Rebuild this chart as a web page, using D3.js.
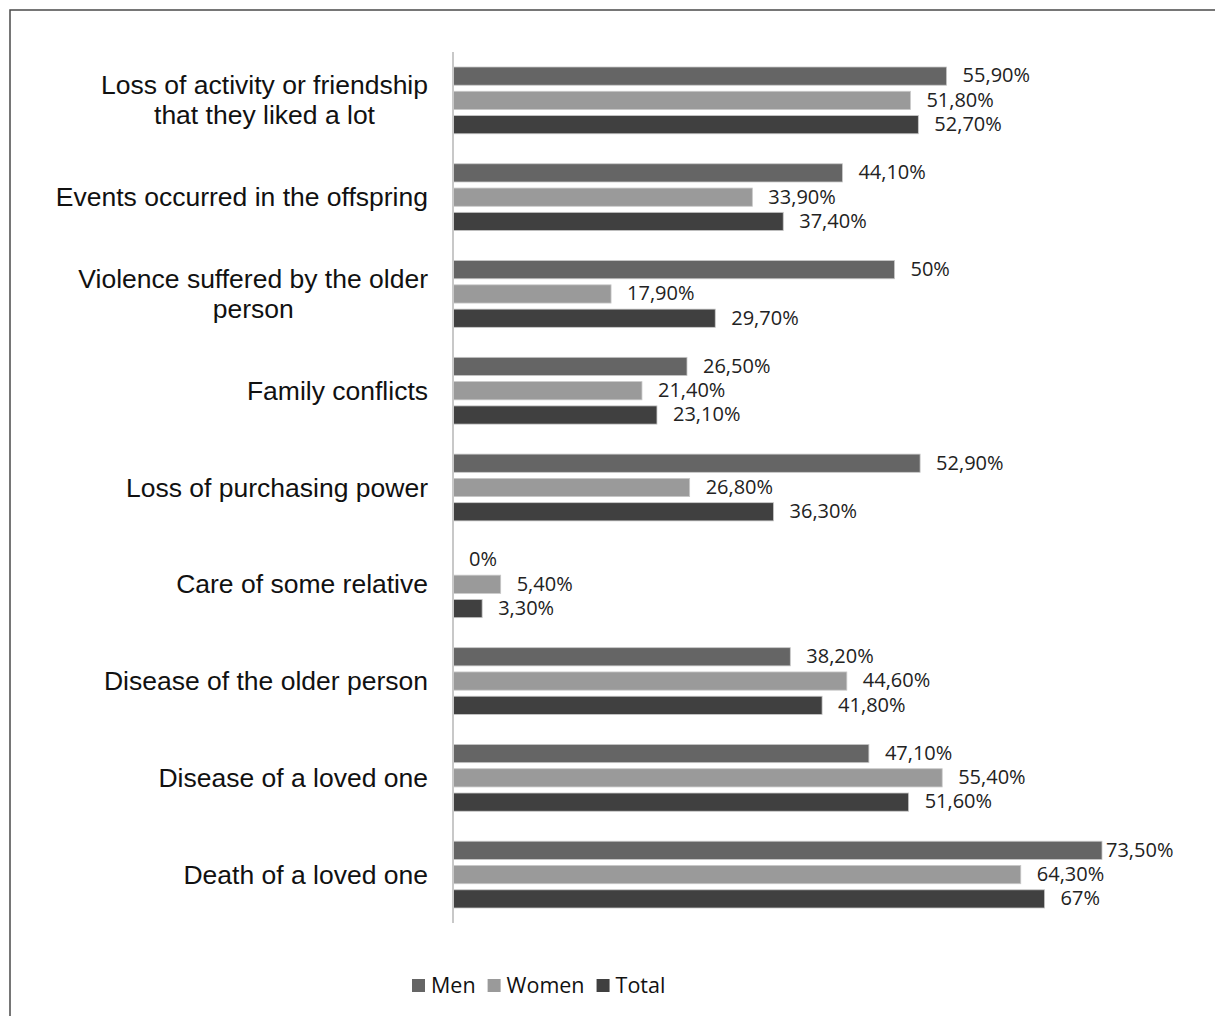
<!DOCTYPE html>
<html>
<head>
<meta charset="utf-8">
<script src="https://cdn.jsdelivr.net/npm/d3@7"></script>
<style>
  body { margin: 0; background: #fff; }
  .cat { font-family: Arial, "Liberation Sans", Helvetica, sans-serif; }
</style>
</head>
<body>
<script>
// categories, top to bottom
var categories = [
  ["Loss of activity or friendship", "that they liked a lot"],
  ["Events occurred in the offspring"],
  ["Violence suffered by the older", "person"],
  ["Family conflicts"],
  ["Loss of purchasing power"],
  ["Care of some relative"],
  ["Disease of the older person"],
  ["Disease of a loved one"],
  ["Death of a loved one"]
];
var seriesNames = ["Men", "Women", "Total"];
var men   = [55.9, 44.1, 50, 26.5, 52.9, 0, 38.2, 47.1, 73.5];
var women = [51.8, 33.9, 17.9, 21.4, 26.8, 5.4, 44.6, 55.4, 64.3];
var total = [52.7, 37.4, 29.7, 23.1, 36.3, 3.3, 41.8, 51.6, 67];
var colors = ["#656565", "#9a9a9a", "#404040"];

var W = 1215, H = 1016;
var svg = d3.select('body').append('svg')
            .attr("width", W)
            .attr("height", H);

// frame (only top + left visible in the picture)
svg.append('rect')
   .attr('x', 10).attr('y', 10)
   .attr('width', 1400).attr('height', 1200)
   .attr('fill', 'none')
   .attr('stroke', '#4a4a4a')
   .attr('stroke-width', 1.5);

var x = d3.scaleLinear().domain([0, 80]).range([453, 453 + 80 * 8.83]);
var plotRight = 1106;

var y0 = d3.scaleBand()
           .domain(d3.range(categories.length))
           .range([52, 923])
           .paddingInner(0.31)
           .paddingOuter(0.155);

var y1 = d3.scaleBand()
           .domain(d3.range(3))
           .range([0, y0.bandwidth()])
           .paddingInner(0.25);

var rows = [];
categories.forEach(function (c, i) {
  [men, women, total].forEach(function (s, j) {
    rows.push({ cat: i, s: j, v: s[i] });
  });
});

var fmt = function (v) {
  var s = (v % 1 === 0) ? String(v) : v.toFixed(2).replace('.', ',');
  return s + '%';
};

svg.selectAll('rect.bar')
   .data(rows)
   .enter().append('rect')
   .attr('class', 'bar')
   .attr('x', x(0))
   .attr('y', function (d) { return y0(d.cat) + y1(d.s); })
   .attr('width', function (d) { return x(d.v) - x(0); })
   .attr('height', y1.bandwidth())
   .attr('fill', function (d) { return colors[d.s]; })
   .attr('stroke', '#c8c8c8')
   .attr('stroke-width', 0.8);

svg.selectAll('text.val')
   .data(rows)
   .enter().append('text')
   .attr('class', 'val')
   .attr('x', function (d) { var e = x(d.v); return e + Math.min(16, plotRight - e); })
   .attr('y', function (d) { return y0(d.cat) + y1(d.s) + y1.bandwidth() / 2 + 1; })
   .attr('dominant-baseline', 'middle')
   .style('font-family', '"Open Sans", sans-serif')
   .style('font-size', '20px')
   .style('fill', '#222')
   .text(function (d) { return fmt(d.v); });

// axis line
svg.append('line')
   .attr('x1', x(0)).attr('x2', x(0))
   .attr('y1', 52).attr('y2', 923)
   .attr('stroke', '#c8c8c8')
   .attr('stroke-width', 2);

// category labels: block right-aligned at 428, lines centred within the block
var catG = svg.selectAll('text.cat')
   .data(categories)
   .enter().append('text')
   .attr('class', 'cat')
   .attr('text-anchor', 'middle')
   .style('font-size', '26.5px')
   .style('fill', '#111');

catG.each(function (lines, i) {
  var cy = y0(i) + y0.bandwidth() / 2;
  var t = d3.select(this);
  var lh = 30;
  var spans = lines.map(function (ln, k) {
    return t.append('tspan')
     .attr('y', cy + 9 + (k - (lines.length - 1) / 2) * lh)
     .text(ln);
  });
  var maxW = d3.max(spans, function (s) { return s.node().getComputedTextLength(); });
  spans.forEach(function (s) { s.attr('x', 428 - maxW / 2); });
});

// legend
var lx = 412;
seriesNames.forEach(function (name, i) {
  svg.append('rect')
     .attr('x', lx).attr('y', 979)
     .attr('width', 13).attr('height', 13)
     .attr('fill', colors[i]);
  var t = svg.append('text')
     .attr('x', lx + 19).attr('y', 993)
     .style('font-family', '"Open Sans", sans-serif')
     .style('font-size', '21.5px')
     .style('fill', '#111')
     .text(name);
  lx += 19 + t.node().getComputedTextLength() + 12;
});
</script>
</body>
</html>
